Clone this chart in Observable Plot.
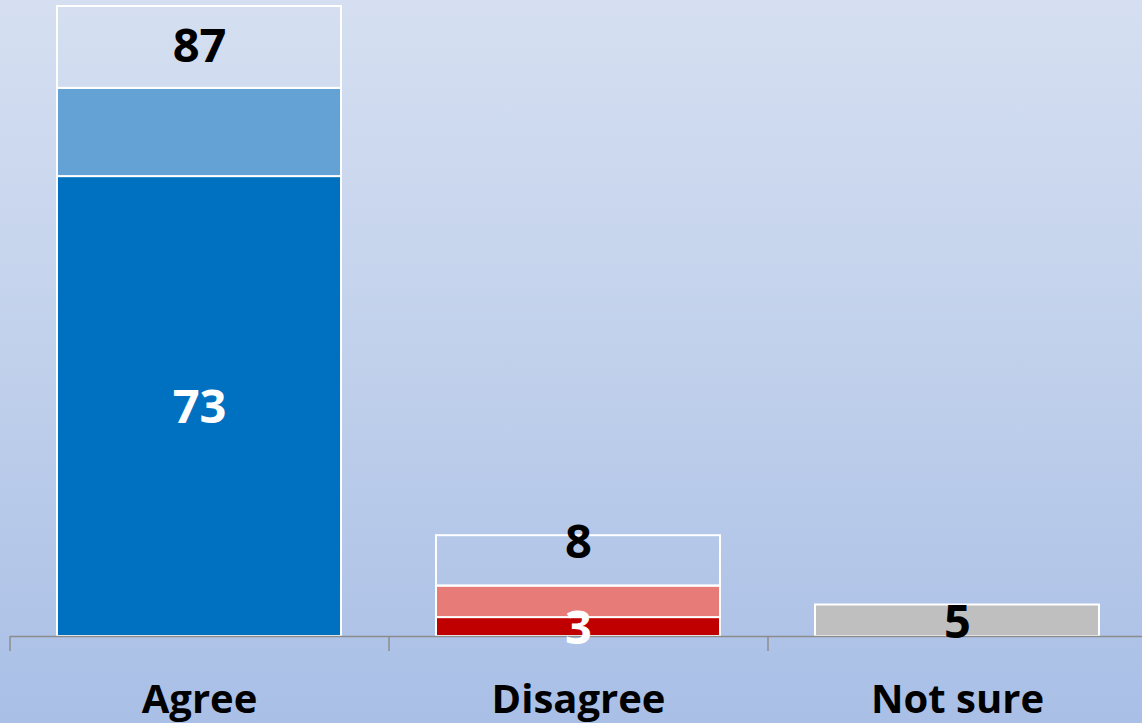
<!DOCTYPE html>
<html>
<head>
<meta charset="utf-8">
<script src="https://cdn.jsdelivr.net/npm/d3@7"></script>
<script src="https://cdn.jsdelivr.net/npm/@observablehq/plot@0.6"></script>
<style>
  html, body { margin: 0; padding: 0; width: 1142px; height: 723px; overflow: hidden; }
  body { background: linear-gradient(to bottom, #d5dff1 0%, #c3d2ec 45%, #a9bfe6 100%); }
  #chart svg { display: block; background: transparent; }
</style>
</head>
<body>
<div id="chart"></div>
<script>
// ---- data ----
const categories = ["Agree", "Disagree", "Not sure"];
const strongValues   = [73, 3, 0];   // strongly agree / strongly disagree
const somewhatValues = [14, 5, 0];   // somewhat agree / somewhat disagree
const notSureValues  = [0, 0, 5];
const boxValues      = [13, 8, 0];   // outlined label box above the total
const totalLabels    = [87, 8, 5];
const totalLabelAt   = [93.5, 14.8, 2.2];
const strongLabels   = [73, 3, null];
const strongLabelAt  = [36.2, 1.2, null];

// ---- styles ----
const fills = {
  "Agree":    {strong: "#0070c0", somewhat: "#64a2d6"},
  "Disagree": {strong: "#c00000", somewhat: "#e77b77"},
  "Not sure": {notsure: "#bfbfbf"}
};

const rows = [];
categories.forEach((c, i) => {
  rows.push({category: c, series: "strong", value: strongValues[i]});
  rows.push({category: c, series: "somewhat", value: somewhatValues[i]});
  rows.push({category: c, series: "notsure", value: notSureValues[i]});
  rows.push({category: c, series: "box", value: boxValues[i]});
});
const seriesOrder = ["strong", "somewhat", "notsure", "box"];

const totals = categories.map((c, i) => ({category: c, label: totalLabels[i], at: totalLabelAt[i], color: "#000"}));
const inner = categories.map((c, i) => ({category: c, label: strongLabels[i], at: strongLabelAt[i], color: "#fff"}))
  .filter(d => d.label != null);

const W = 1142, H = 723;
const xRange = [10, 1147];
const step = (xRange[1] - xRange[0]) / categories.length;

const chart = Plot.plot({
  width: W,
  height: H,
  marginTop: 6,
  marginBottom: 87,
  marginLeft: 10,
  marginRight: 0,
  style: {background: "transparent", fontFamily: "'Open Sans', sans-serif", overflow: "visible"},
  x: {domain: categories, range: xRange, paddingInner: 0.25, paddingOuter: 0.125, label: null},
  y: {domain: [0, 100], axis: null},
  color: {type: "identity"},
  marks: [
    Plot.barY(rows.filter(d => d.value > 0), Plot.stackY({
      x: "category",
      y: "value",
      order: d => seriesOrder.indexOf(d.series),
      fill: d => d.series === "box" ? "none" : fills[d.category][d.series],
      stroke: "#ffffff",
      strokeWidth: 2
    })),
    Plot.ruleY([0], {stroke: "#8c8c8c", strokeWidth: 1.5}),
    Plot.axisX({tickSize: 15, tickFormat: () => "", dx: -step / 2, stroke: "#8c8c8c", strokeWidth: 1.5}),
    Plot.axisX({tickSize: 0, tickPadding: 48, fontSize: 40, fontWeight: "bold", fill: "#000", label: null}),
    Plot.text(totals, {x: "category", y: "at", text: "label", fill: "color",
      fontSize: 47, fontWeight: "bold", lineAnchor: "middle"}),
    Plot.text(inner, {x: "category", y: "at", text: "label", fill: "color",
      fontSize: 47, fontWeight: "bold", lineAnchor: "middle"})
  ]
});
document.getElementById("chart").appendChild(chart);
</script>
</body>
</html>
